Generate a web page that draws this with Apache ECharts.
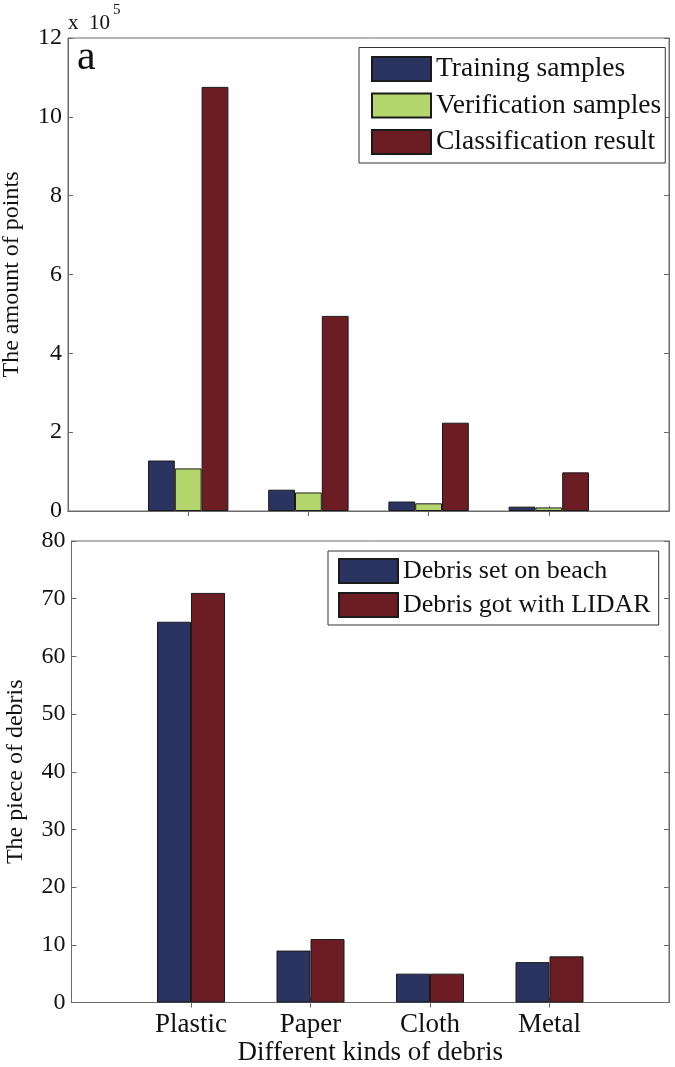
<!DOCTYPE html>
<html>
<head>
<meta charset="utf-8">
<script src="https://cdn.jsdelivr.net/npm/echarts@6/dist/echarts.min.js"></script>
<style>
html,body{margin:0;padding:0;background:#fff;}
#chart{width:675px;height:1067px;}
</style>
</head>
<body>
<div id="chart"></div>
<script>
// ---- data ----
const categories = ['Plastic', 'Paper', 'Cloth', 'Metal'];
const trainingSamples = [128000, 54000, 24000, 11000];
const verificationSamples = [108000, 47000, 19500, 9000];
const classificationResult = [1076000, 495000, 224000, 98000];
const debrisSetOnBeach = [66, 9, 5, 7];
const debrisGotWithLidar = [71, 11, 5, 8];
const topYTicks = [0, 2, 4, 6, 8, 10, 12];          // x 10^5
const bottomYTicks = [0, 10, 20, 30, 40, 50, 60, 70, 80];

// ---- helpers ----
const FONT = "'Liberation Serif', 'Times New Roman', serif";
const AX = '#6a6a6a';
const BLUE = '#2b3461', GREEN = '#b4d66c', RED = '#6b1d23';
const padded = ['', ...categories, ''];
const pad = arr => ['-', ...arr, '-'];
const isCat = (i, v) => v !== '';

function xAxisDef(gridIndex, pos, showLabels, name) {
  return {
    type: 'category', gridIndex, position: pos, data: padded, boundaryGap: false,
    axisLine: { show: true, lineStyle: { color: AX, width: 1 } },
    axisTick: { show: true, inside: true, length: 5, interval: isCat, lineStyle: { color: AX } },
    axisLabel: { show: showLabels, interval: isCat, margin: 9, color: '#111', fontFamily: FONT, fontSize: 27 },
    name: name || '', nameLocation: 'middle', nameGap: 37,
    nameTextStyle: { color: '#111', fontFamily: FONT, fontSize: 27 },
    splitLine: { show: false }
  };
}
function yAxisDef(gridIndex, pos, ticks, scale, name, showLabels) {
  return {
    type: 'value', gridIndex, position: pos,
    min: ticks[0] * scale, max: ticks[ticks.length - 1] * scale,
    interval: (ticks[1] - ticks[0]) * scale,
    axisLine: { show: true, lineStyle: { color: AX, width: 1 } },
    axisTick: { show: true, inside: true, length: 5, lineStyle: { color: AX } },
    axisLabel: { show: showLabels, margin: 6, color: '#111', fontFamily: FONT, fontSize: 24,
      formatter: v => String(Math.round(v / scale)) },
    name: name || '', nameLocation: 'middle', nameGap: 44,
    nameTextStyle: { color: '#111', fontFamily: FONT, fontSize: 24 },
    splitLine: { show: false }
  };
}
function barSeries(name, data, color, xi, yi, w) {
  return {
    type: 'bar', name, data: pad(data), xAxisIndex: xi, yAxisIndex: yi,
    barWidth: w, barGap: '0%',
    itemStyle: { color, borderColor: '#1a1a1a', borderWidth: 1 },
    emphasis: { disabled: true }
  };
}

const chart = echarts.init(document.getElementById('chart'), null, { renderer: 'canvas' });
chart.setOption({
  backgroundColor: '#fff',
  animation: false,
  grid: [
    { left: 68, top: 38, width: 601, height: 473, containLabel: false, outerBoundsMode: 'none',
      show: true, borderColor: AX, borderWidth: 1, backgroundColor: 'transparent' },
    { left: 71.5, top: 541, width: 597.5, height: 461.5, containLabel: false, outerBoundsMode: 'none',
      show: true, borderColor: AX, borderWidth: 1, backgroundColor: 'transparent' }
  ],
  xAxis: [
    xAxisDef(0, 'bottom', false),
    xAxisDef(0, 'top', false),
    xAxisDef(1, 'bottom', true, 'Different kinds of debris'),
    xAxisDef(1, 'top', false)
  ],
  yAxis: [
    yAxisDef(0, 'left', topYTicks, 1e5, 'The amount of points', true),
    yAxisDef(0, 'right', topYTicks, 1e5, '', false),
    yAxisDef(1, 'left', bottomYTicks, 1, 'The piece of debris', true),
    yAxisDef(1, 'right', bottomYTicks, 1, '', false)
  ],
  legend: [
    {
      data: ['Training samples', 'Verification samples', 'Classification result'],
      orient: 'vertical', left: 359, top: 47.5,
      itemWidth: 59, itemHeight: 24, itemGap: 8.5,
      padding: [7.5, 4, 7, 12],
      borderColor: '#333', borderWidth: 1, backgroundColor: '#fff',
      icon: 'rect', selectedMode: false,
      textStyle: { color: '#111', fontFamily: FONT, fontSize: 27.5 }
    },
    {
      data: ['Debris set on beach', 'Debris got with LIDAR'],
      orient: 'vertical', left: 328, top: 551,
      itemWidth: 59, itemHeight: 24, itemGap: 8,
      padding: [7, 8, 7, 10],
      borderColor: '#333', borderWidth: 1, backgroundColor: '#fff',
      icon: 'rect', selectedMode: false,
      textStyle: { color: '#111', fontFamily: FONT, fontSize: 26 }
    }
  ],
  graphic: [
    { type: 'text', left: 68, top: 13, style: { text: 'x', fontFamily: FONT, fontSize: 21, fill: '#111' } },
    { type: 'text', left: 89, top: 13, style: { text: '10', fontFamily: FONT, fontSize: 21, fill: '#111' } },
    { type: 'text', left: 113, top: 3, style: { text: '5', fontFamily: FONT, fontSize: 15, fill: '#111' } },
    { type: 'text', left: 77, top: 37, style: { text: 'a', fontFamily: FONT, fontSize: 42, fill: '#111' } }
  ],
  series: [
    barSeries('Training samples', trainingSamples, BLUE, 0, 0, 26.8),
    barSeries('Verification samples', verificationSamples, GREEN, 0, 0, 26.8),
    barSeries('Classification result', classificationResult, RED, 0, 0, 26.8),
    barSeries('Debris set on beach', debrisSetOnBeach, BLUE, 2, 2, 34),
    barSeries('Debris got with LIDAR', debrisGotWithLidar, RED, 2, 2, 34)
  ]
});
</script>
</body>
</html>
